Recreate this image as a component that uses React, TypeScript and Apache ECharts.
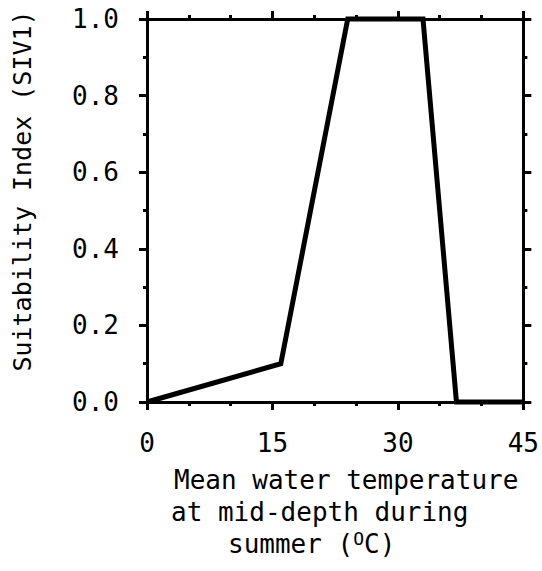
import React, { useEffect, useRef } from "react";
import * as echarts from "echarts";

const temperature = [0, 16, 24, 33, 37, 45];
const suitability = [0, 0.1, 1.0, 1.0, 0, 0];
const xTicks = [0, 15, 30, 45];
const yTicks = [0, 0.2, 0.4, 0.6, 0.8, 1.0];
const xTitleLines = ["Mean water temperature", "at mid-depth during"];
const yTitle = "Suitability Index (SIV1)";

const FONT = "DejaVu Sans Mono";

export default function App() {
  const ref = useRef<HTMLDivElement>(null);
  useEffect(() => {
    if (!ref.current) return;
    const chart = echarts.init(ref.current, null, { renderer: "svg" });
    const axisCommon = {
      type: "value",
      axisLine: { show: true, onZero: false, lineStyle: { color: "#000", width: 3 } },
      axisTick: { show: true, inside: false, length: 8, lineStyle: { color: "#000", width: 3 } },
      minorTick: { show: true, length: 4, lineStyle: { color: "#000", width: 3 } },
      splitLine: { show: false },
    };
    chart.setOption({
      animation: false,
      backgroundColor: "#fff",
      grid: { left: 147, right: 10, top: 19, bottom: 169, containLabel: false },
      xAxis: [
        {
          ...axisCommon,
          position: "bottom",
          min: 0,
          max: 45,
          interval: 15,
          minorTick: { ...axisCommon.minorTick, splitNumber: 3 },
          axisLabel: {
            show: true,
            margin: 28,
            color: "#000",
            fontFamily: FONT,
            fontSize: 26,
            formatter: (v: number) => (xTicks.includes(v) ? String(v) : ""),
          },
        },
        {
          ...axisCommon,
          position: "top",
          min: 0,
          max: 45,
          interval: 15,
          minorTick: { ...axisCommon.minorTick, splitNumber: 3 },
          axisLabel: { show: false },
        },
      ],
      yAxis: [
        {
          ...axisCommon,
          position: "left",
          min: 0,
          max: 1,
          interval: 0.2,
          minorTick: { ...axisCommon.minorTick, splitNumber: 2 },
          axisLabel: {
            show: true,
            margin: 28,
            color: "#000",
            fontFamily: FONT,
            fontSize: 26,
            formatter: (v: number) => {
              const t = yTicks.find((y) => Math.abs(y - v) < 1e-6);
              return t === undefined ? "" : t.toFixed(1);
            },
          },
        },
        {
          ...axisCommon,
          position: "right",
          min: 0,
          max: 1,
          interval: 0.2,
          minorTick: { ...axisCommon.minorTick, splitNumber: 2 },
          axisLabel: { show: false },
        },
      ],
      series: [
        {
          type: "line",
          data: temperature.map((t, i) => [t, suitability[i]]),
          showSymbol: false,
          symbol: "none",
          clip: false,
          lineStyle: { color: "#000", width: 5, join: "miter" },
        },
      ],
      graphic: [
        {
          type: "text",
          x: 22,
          y: 191,
          rotation: Math.PI / 2,
          style: {
            text: yTitle,
            fill: "#000",
            font: `25px "${FONT}"`,
            align: "center",
            verticalAlign: "middle",
          },
        },
        {
          type: "text",
          x: 174,
          y: 480,
          style: { text: xTitleLines[0], fill: "#000", font: `26px "${FONT}"`, align: "left", verticalAlign: "middle" },
        },
        {
          type: "text",
          x: 171,
          y: 512,
          style: { text: xTitleLines[1], fill: "#000", font: `26px "${FONT}"`, align: "left", verticalAlign: "middle" },
        },
        {
          type: "text",
          x: 228,
          y: 544,
          style: {
            text: "summer ({sup|O}C)",
            fill: "#000",
            font: `26px "${FONT}"`,
            align: "left",
            verticalAlign: "middle",
            rich: {
              sup: { fontFamily: FONT, fontSize: 18, fill: "#000", verticalAlign: "top", padding: [0, 0, 12, 0] },
            },
          },
        },
      ],
    });
    return () => chart.dispose();
  }, []);
  return (
    <div
      ref={ref}
      style={{ position: "absolute", left: 0, top: 0, width: 542, height: 571 }}
    />
  );
}
